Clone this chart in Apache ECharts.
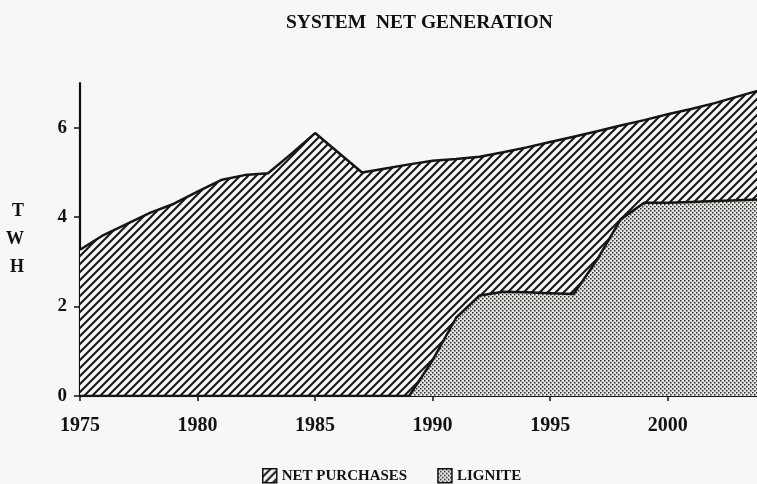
<!DOCTYPE html>
<html>
<head>
<meta charset="utf-8">
<script src="https://cdn.jsdelivr.net/npm/echarts@6/dist/echarts.min.js"></script>
<style>
  html, body { margin: 0; padding: 0; background: #f6f8f7; }
  #main { width: 757px; height: 484px; }
</style>
</head>
<body>
<div id="main"></div>
<script>
// data (TWh)
var years = [1975, 1976, 1977, 1978, 1979, 1980, 1981, 1982, 1983, 1984,
             1985, 1986, 1987, 1988, 1989, 1990, 1991, 1992, 1993, 1994,
             1995, 1996, 1997, 1998, 1999, 2000, 2001, 2002, 2003, 2004];
// top of the stack = lignite + net purchases
var totalGen = [3.27, 3.6, 3.85, 4.1, 4.3, 4.57, 4.83, 4.94, 4.98, 5.42,
                5.88, 5.44, 5.0, 5.09, 5.18, 5.26, 5.3, 5.35, 5.45, 5.56,
                5.68, 5.8, 5.92, 6.05, 6.17, 6.3, 6.42, 6.55, 6.7, 6.85];
var lignite = [0, 0, 0, 0, 0, 0, 0, 0, 0, 0,
               0, 0, 0, 0, 0, 0.8, 1.75, 2.25, 2.33, 2.32,
               2.3, 2.28, 3.05, 3.95, 4.32, 4.32, 4.34, 4.36, 4.38, 4.4];
var yTicks = [0, 2, 4, 6];
var xTicks = [1975, 1980, 1985, 1990, 1995, 2000];

function pairs(vals) {
    return years.map(function (y, i) { return [y, vals[i]]; });
}

// hatch pattern "/" for net purchases
function hatchPattern() {
    var s = 8;
    var c = document.createElement('canvas');
    c.width = s; c.height = s;
    var ctx = c.getContext('2d');
    ctx.fillStyle = '#f6f8f7';
    ctx.fillRect(0, 0, s, s);
    ctx.strokeStyle = '#151515';
    ctx.lineWidth = 2;
    ctx.beginPath();
    ctx.moveTo(-1, s + 1); ctx.lineTo(s + 1, -1);
    ctx.moveTo(-1, 1); ctx.lineTo(1, -1);
    ctx.moveTo(s - 1, s + 1); ctx.lineTo(s + 1, s - 1);
    ctx.stroke();
    return c;
}

// dotted pattern for lignite
function dotPattern() {
    var c = document.createElement('canvas');
    c.width = 4; c.height = 4;
    var ctx = c.getContext('2d');
    ctx.fillStyle = '#e4e5e3';
    ctx.fillRect(0, 0, 4, 4);
    ctx.fillStyle = '#2a2a2a';
    ctx.fillRect(0, 0, 1.5, 1.5);
    ctx.fillRect(2, 2, 1.5, 1.5);
    return c;
}

var hatch = { image: hatchPattern(), repeat: 'repeat' };
var dots = { image: dotPattern(), repeat: 'repeat' };

var myChart = echarts.init(document.getElementById('main'));

var serif = 'Liberation Serif';

var option = {
    backgroundColor: '#f6f8f7',
    animation: false,
    title: {
        text: 'SYSTEM  NET GENERATION',
        left: 281,
        top: 8,
        textStyle: { fontFamily: serif, fontSize: 19.5, fontWeight: 'bold', color: '#111' }
    },
    legend: {
        left: 257,
        top: 463,
        itemWidth: 14,
        itemHeight: 14,
        itemGap: 30,
        icon: 'rect',
        textStyle: { fontFamily: serif, fontSize: 15, fontWeight: 'bold', color: '#111' },
        data: [
            { name: 'NET PURCHASES', itemStyle: { color: hatch, borderColor: '#111', borderWidth: 1.5 } },
            { name: 'LIGNITE', itemStyle: { color: dots, borderColor: '#111', borderWidth: 1.5 } }
        ]
    },
    grid: { left: 80, right: 0, top: 83, bottom: 88 },
    xAxis: {
        type: 'value',
        min: 1975,
        max: 2003.8,
        interval: 5,
        axisLine: { lineStyle: { color: '#111', width: 2.2 } },
        axisTick: { length: 5, lineStyle: { color: '#111', width: 1.5 }, customValues: xTicks },
        axisLabel: {
            customValues: xTicks,
            formatter: function (v) { return String(v); },
            margin: 20,
            fontFamily: serif, fontSize: 20, fontWeight: 'bold', color: '#111'
        },
        splitLine: { show: false }
    },
    yAxis: {
        type: 'value',
        min: 0,
        max: 7,
        interval: 2,
        name: 'T\nW\nH',
        nameLocation: 'middle',
        nameRotate: 0,
        nameGap: 56,
        nameTextStyle: {
            fontFamily: serif, fontSize: 18, fontWeight: 'bold', color: '#111',
            lineHeight: 28, padding: [9, 0, 0, 0]
        },
        axisLine: { lineStyle: { color: '#111', width: 2.2 } },
        axisTick: { length: 6, lineStyle: { color: '#111', width: 1.5 }, customValues: yTicks },
        axisLabel: {
            customValues: yTicks,
            margin: 13,
            fontFamily: serif, fontSize: 19, fontWeight: 'bold', color: '#111'
        },
        splitLine: { show: false }
    },
    series: [
        {
            name: 'NET PURCHASES',
            type: 'line',
            symbol: 'none',
            z: 2,
            data: pairs(totalGen),
            lineStyle: { color: '#151515', width: 2.5 },
            itemStyle: { color: hatch },
            areaStyle: { color: hatch, opacity: 1 }
        },
        {
            name: 'LIGNITE',
            type: 'line',
            symbol: 'none',
            z: 3,
            data: pairs(lignite),
            lineStyle: { color: '#151515', width: 2.5 },
            itemStyle: { color: dots },
            areaStyle: { color: dots, opacity: 1 }
        }
    ]
};

myChart.setOption(option);
</script>
</body>
</html>
